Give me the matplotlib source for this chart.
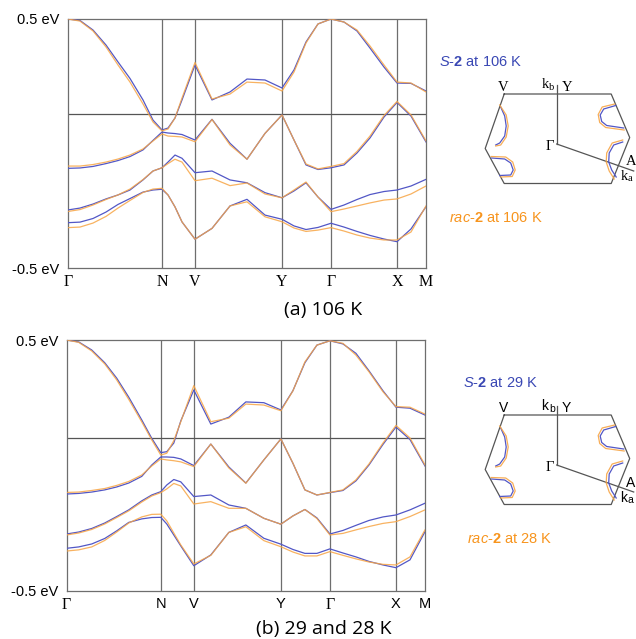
import numpy as np
import matplotlib
matplotlib.use("Agg")
import matplotlib.pyplot as plt

plt.rcParams['mathtext.fontset'] = 'custom'
plt.rcParams['mathtext.rm'] = 'Liberation Sans'
plt.rcParams['mathtext.it'] = 'Liberation Sans:italic'
plt.rcParams['mathtext.bf'] = 'Liberation Sans:bold'

# ---------------- data ----------------
kpath = [0, 12, 25, 38, 50, 62, 75, 85, 94, 100, 107, 114, 127, 144, 162, 179,
         197, 214, 226, 238, 250, 263, 276, 289, 302, 316, 329, 343, 358]
kpt_pos = [0, 94, 127, 214, 263, 329, 358]
kpt_labels = ["Γ", "N", "V", "Y", "Γ", "X", "M"]
ytick_labels = ["-0.5 eV", "0.5 eV"]
ylim_a = [-0.8105, 0.5]
ylim_b = [-0.781, 0.5]

# panel (a) 106 K : S-2 (blue) and rac-2 (orange), four bands each
a_S_b1 = [0.500, 0.492, 0.442, 0.363, 0.274, 0.187, 0.074, -0.032, -0.084, -0.074, -0.021, 0.074, 0.258, 0.074, 0.116,
          0.184, 0.179, 0.137, 0.232, 0.379, 0.474, 0.500, 0.484, 0.437, 0.347, 0.247, 0.163, 0.161, 0.121]
a_R_b1 = [0.500, 0.489, 0.437, 0.353, 0.258, 0.168, 0.053, -0.042, -0.089, -0.079, -0.021, 0.084, 0.271, 0.079, 0.105,
          0.168, 0.163, 0.121, 0.221, 0.374, 0.474, 0.500, 0.484, 0.442, 0.358, 0.258, 0.168, 0.163, 0.116]
a_S_b2 = [-0.286, -0.284, -0.276, -0.261, -0.245, -0.224, -0.189, -0.139, -0.095, -0.100, -0.103, -0.108, -0.137, -0.028, -0.154,
          -0.238, -0.102, -0.005, -0.137, -0.268, -0.292, -0.283, -0.268, -0.205, -0.126, -0.016, 0.061, -0.011, -0.147]
a_R_b2 = [-0.274, -0.274, -0.266, -0.253, -0.237, -0.216, -0.184, -0.142, -0.105, -0.116, -0.118, -0.121, -0.146, -0.029, -0.163,
          -0.238, -0.102, -0.005, -0.137, -0.263, -0.289, -0.276, -0.261, -0.197, -0.116, -0.008, 0.066, -0.005, -0.142]
a_S_b3 = [-0.505, -0.495, -0.474, -0.447, -0.426, -0.400, -0.347, -0.300, -0.283, -0.253, -0.216, -0.233, -0.309, -0.300, -0.347,
          -0.362, -0.414, -0.441, -0.405, -0.362, -0.437, -0.502, -0.479, -0.450, -0.424, -0.408, -0.400, -0.379, -0.344]
a_R_b3 = [-0.513, -0.503, -0.479, -0.450, -0.426, -0.395, -0.345, -0.300, -0.283, -0.261, -0.238, -0.253, -0.351, -0.338, -0.377,
          -0.363, -0.421, -0.441, -0.400, -0.358, -0.437, -0.514, -0.500, -0.484, -0.468, -0.453, -0.447, -0.421, -0.379]
a_S_b4 = [-0.572, -0.569, -0.550, -0.516, -0.476, -0.445, -0.411, -0.400, -0.396, -0.426, -0.489, -0.568, -0.659, -0.602, -0.484,
          -0.449, -0.532, -0.554, -0.589, -0.608, -0.597, -0.575, -0.595, -0.618, -0.639, -0.658, -0.672, -0.605, -0.488]
a_R_b4 = [-0.598, -0.595, -0.574, -0.539, -0.495, -0.455, -0.413, -0.395, -0.391, -0.426, -0.489, -0.568, -0.659, -0.602, -0.484,
          -0.462, -0.541, -0.567, -0.600, -0.618, -0.611, -0.598, -0.616, -0.637, -0.653, -0.663, -0.663, -0.621, -0.484]

# panel (b) S-2 at 29 K (blue) and rac-2 at 28 K (orange)
b_S_b1 = [0.500, 0.490, 0.449, 0.384, 0.305, 0.208, 0.092, -0.002, -0.075, -0.070, -0.026, 0.087, 0.245, 0.071, 0.106,
          0.184, 0.180, 0.143, 0.241, 0.384, 0.474, 0.496, 0.480, 0.432, 0.343, 0.241, 0.157, 0.152, 0.117]
b_R_b1 = [0.500, 0.488, 0.444, 0.378, 0.296, 0.197, 0.082, -0.010, -0.087, -0.078, -0.014, 0.083, 0.267, 0.083, 0.101,
          0.173, 0.168, 0.139, 0.240, 0.388, 0.474, 0.496, 0.483, 0.423, 0.338, 0.236, 0.160, 0.157, 0.122]
b_S_b2 = [-0.286, -0.283, -0.276, -0.265, -0.250, -0.230, -0.196, -0.138, -0.097, -0.097, -0.099, -0.107, -0.141, -0.031, -0.148,
          -0.230, -0.112, -0.005, -0.129, -0.265, -0.291, -0.279, -0.268, -0.219, -0.138, -0.033, 0.056, -0.008, -0.143]
b_R_b2 = [-0.278, -0.276, -0.268, -0.258, -0.242, -0.222, -0.189, -0.143, -0.107, -0.112, -0.116, -0.122, -0.146, -0.031, -0.153,
          -0.231, -0.112, -0.005, -0.128, -0.265, -0.291, -0.278, -0.265, -0.214, -0.133, -0.026, 0.064, 0.000, -0.138]
b_S_b3 = [-0.490, -0.480, -0.462, -0.434, -0.401, -0.367, -0.321, -0.291, -0.274, -0.240, -0.212, -0.224, -0.299, -0.291, -0.342,
          -0.359, -0.410, -0.440, -0.398, -0.365, -0.408, -0.490, -0.472, -0.446, -0.421, -0.403, -0.393, -0.367, -0.333]
b_R_b3 = [-0.495, -0.485, -0.467, -0.439, -0.406, -0.372, -0.327, -0.296, -0.279, -0.260, -0.232, -0.245, -0.337, -0.325, -0.359,
          -0.359, -0.410, -0.440, -0.398, -0.365, -0.411, -0.495, -0.487, -0.469, -0.452, -0.436, -0.427, -0.401, -0.367]
b_S_b4 = [-0.563, -0.556, -0.541, -0.513, -0.474, -0.431, -0.413, -0.406, -0.405, -0.439, -0.495, -0.551, -0.652, -0.597, -0.482,
          -0.444, -0.512, -0.542, -0.569, -0.589, -0.589, -0.566, -0.587, -0.607, -0.630, -0.648, -0.662, -0.622, -0.478]
b_R_b4 = [-0.577, -0.571, -0.556, -0.523, -0.480, -0.434, -0.403, -0.390, -0.389, -0.423, -0.485, -0.546, -0.643, -0.599, -0.482,
          -0.453, -0.524, -0.555, -0.582, -0.602, -0.602, -0.580, -0.599, -0.617, -0.633, -0.645, -0.648, -0.607, -0.469]

# Brillouin zone (relative to Gamma, arbitrary units, y up)
hex_x = [-52.5, 54.5, 73.0, 54.5, -52.5, -71.5]
hex_y = [50.0, 50.0, 6.5, -39.5, -39.5, -4.5]
kb_axis = [0.0, 59.0]
ka_axis = [77.0, -27.0]
# Fermi-surface pockets: (x list, y list)
pk_S = [
    ([-56, -52, -50.5, -52, -57, -61], [37, 28, 18, 8, 1, -1]),
    ([-65, -52, -46, -43.5, -46, -57], [-14, -15, -19, -26, -31, -31.5]),
    ([59, 47, 43.5, 45, 50, 67], [38.5, 35, 29, 22.5, 18.5, 16]),
    ([66, 57, 52.5, 52, 55, 59.5], [2, -1, -9, -18, -26, -33]),
]
pk_R = [
    ([-57, -50.5, -48.5, -50.5, -56, -61], [39, 29, 18, 7, -1, -2]),
    ([-65.5, -51, -44, -41.5, -44.5, -56], [-12.5, -13, -18, -26, -32.5, -33]),
    ([58, 45.5, 41.5, 43, 49, 67.5], [40, 37, 29.5, 21.5, 16.5, 14]),
    ([66, 55.5, 50, 49.5, 52.5, 57.5], [4, 1, -9, -18, -27, -35]),
]

legend_a = [r"$\mathit{S}$-$\mathbf{2}$ at 106 K", r"$\mathit{rac}$-$\mathbf{2}$ at 106 K"]
legend_b = [r"$\mathit{S}$-$\mathbf{2}$ at 29 K", r"$\mathit{rac}$-$\mathbf{2}$ at 28 K"]
captions = ["(a) 106 K", "(b) 29 and 28 K"]

# ---------------- style ----------------
W, H = 636, 639
BLUE = "#5257c6"
ORANGE = "#f7a545"
TBLUE = "#3a48b4"
TORANGE = "#f7941d"
GRID = "#6e6e6e"

fig = plt.figure(figsize=(W / 100, H / 100), dpi=100)


def px_axes(x0, y0, x1, y1):
    return fig.add_axes([x0 / W, 1 - y1 / H, (x1 - x0) / W, (y1 - y0) / H])


def band_panel(box, ylim, S_bands, R_bands, serif_all):
    ax = px_axes(*box)
    for s in S_bands:
        ax.plot(kpath, s, color=BLUE, lw=0.9, solid_joinstyle='round', zorder=3)
    for r in R_bands:
        ax.plot(kpath, r, color=ORANGE, lw=0.9, alpha=0.85, solid_joinstyle='round', zorder=4)
    ax.set_xlim(kpt_pos[0], kpt_pos[-1])
    ax.set_ylim(*ylim)
    for xv in kpt_pos[1:-1]:
        ax.axvline(xv, color=GRID, lw=0.9, zorder=1)
    ax.axhline(0, color="#555555", lw=0.9, zorder=1)
    for sp in ax.spines.values():
        sp.set_color(GRID)
        sp.set_linewidth(0.9)
    ax.set_yticks(ylim)
    ax.set_yticklabels(ytick_labels, fontfamily="Liberation Sans", fontsize=10.5)
    ax.set_xticks(kpt_pos)
    ax.set_xticklabels(kpt_labels, fontfamily="Liberation Serif", fontsize=11.5)
    if not serif_all:
        for lbl in ax.get_xticklabels():
            if lbl.get_text() != "Γ":
                lbl.set_fontfamily("Liberation Sans")
                lbl.set_fontsize(10.5)
    ax.tick_params(length=0, pad=4)
    ax.tick_params(axis='y', pad=6)
    return ax


def bz_panel(gx, gy, serif_all):
    x0, x1, y0, y1 = 470, 636, gy - 80, gy + 60
    ax = px_axes(x0, y0, x1, y1)
    ax.set_xlim(x0 - gx, x1 - gx)
    ax.set_ylim(gy - y1, gy - y0)
    ax.axis('off')
    hx = hex_x + hex_x[:1]
    hy = hex_y + hex_y[:1]
    ax.plot(hx, hy, color="#555555", lw=0.9)
    ax.plot([0, kb_axis[0]], [0, kb_axis[1]], color="#555555", lw=0.9)
    ax.plot([0, ka_axis[0]], [0, ka_axis[1]], color="#555555", lw=0.9)
    for (px, py) in pk_S:
        ax.plot(px, py, color=BLUE, lw=0.9)
    for (px, py) in pk_R:
        ax.plot(px, py, color=ORANGE, lw=0.9, alpha=0.9)
    lf = "Liberation Serif" if serif_all else "Liberation Sans"
    fs = 10.5 if serif_all else 10
    ax.text(-53.4, 56.7, "V", fontfamily=lf, fontsize=fs, ha='center', va='center')
    ax.text(-11.7, 59, "k", fontfamily=lf, fontsize=fs, ha='center', va='center')
    ax.text(-5.0, 56.3, "b", fontfamily=lf, fontsize=7.5, ha='center', va='center')
    ax.text(10, 56.7, "Y", fontfamily=lf, fontsize=fs, ha='center', va='center')
    ax.text(-6.7, -2.7, "Γ", fontfamily="Liberation Serif", fontsize=10.5, ha='center', va='center')
    ax.text(74.0, -17.7, "A", fontfamily=lf, fontsize=fs, ha='center', va='center')
    ax.text(67.3, -32.7, "k", fontfamily=lf, fontsize=fs, ha='center', va='center')
    ax.text(73.5, -35.0, "a", fontfamily=lf, fontsize=7.5, ha='center', va='center')


def ftext(x, y, s, **kw):
    fig.text(x / W, 1 - y / H, s, **kw)


# panel (a)
band_panel((68, 19, 426, 268), ylim_a,
           [a_S_b1, a_S_b2, a_S_b3, a_S_b4], [a_R_b1, a_R_b2, a_R_b3, a_R_b4], True)
bz_panel(556.7, 144, True)
ftext(439, 62, legend_a[0], color=TBLUE, fontfamily="Liberation Sans", fontsize=10.5, va='center')
ftext(449, 218, legend_a[1], color=TORANGE, fontfamily="Liberation Sans", fontsize=10.5, va='center')
ftext(323, 310, captions[0], fontfamily="Open Sans", fontsize=14, ha='center', va='center')

# panel (b)
band_panel((66.7, 340, 425, 591), ylim_b,
           [b_S_b1, b_S_b2, b_S_b3, b_S_b4], [b_R_b1, b_R_b2, b_R_b3, b_R_b4], False)
bz_panel(556.7, 465, False)
ftext(463, 383, legend_b[0], color=TBLUE, fontfamily="Liberation Sans", fontsize=10.5, va='center')
ftext(467, 539, legend_b[1], color=TORANGE, fontfamily="Liberation Sans", fontsize=10.5, va='center')
ftext(324, 629, captions[1], fontfamily="Open Sans", fontsize=14, ha='center', va='center')

fig.savefig("out.png", dpi=100)
